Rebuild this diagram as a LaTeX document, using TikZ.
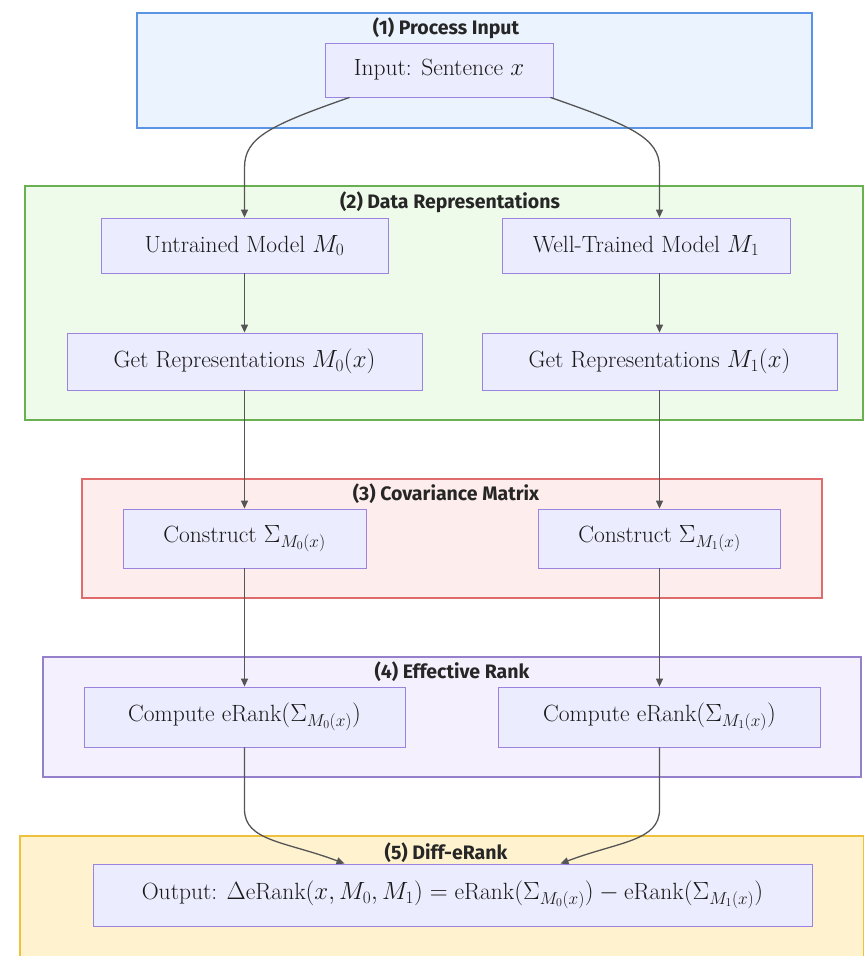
\documentclass[tikz,border=0pt]{standalone}
\usepackage{fontspec}
\usetikzlibrary{arrows.meta}
\newfontfamily\ttlfont{Fira Sans}
\definecolor{cLine}{HTML}{555555}
\definecolor{cNode}{HTML}{ECECFF}
\definecolor{cNodeDraw}{HTML}{9C83DD}
\definecolor{cInBg}{HTML}{EAF3FE}
\definecolor{cInDraw}{HTML}{5B93E6}
\definecolor{cRepBg}{HTML}{EFFBEA}
\definecolor{cRepDraw}{HTML}{6AAF50}
\definecolor{cCovBg}{HTML}{FDEDEC}
\definecolor{cCovDraw}{HTML}{DF6B6B}
\definecolor{cRankBg}{HTML}{F5F0FD}
\definecolor{cRankDraw}{HTML}{9580CC}
\definecolor{cDiffBg}{HTML}{FEF2CF}
\definecolor{cDiffDraw}{HTML}{EEC13A}
\newcommand{\eRank}{\mathrm{eRank}}

\begin{document}
\begin{tikzpicture}[x=1pt,y=-1pt,
  grp/.style={line width=1.6pt},
  ttl/.style={font=\ttlfont\bfseries\fontsize{19.5}{23}\selectfont,text=black!85},
  proc/.style={draw=cNodeDraw,fill=cNode,line width=0.8pt,inner sep=0pt,
               minimum height=56pt,text=black!90,font=\fontsize{23.5}{28}\selectfont},
  flow/.style={-{Triangle[length=8pt,width=7pt]},line width=1.3pt,cLine}
]
\useasboundingbox[fill=white] (0,0) rectangle (864,956);

% groups
\draw[grp,draw=cInDraw,fill=cInBg] (137,13) rectangle (812,128);
\draw[grp,draw=cRepDraw,fill=cRepBg] (25,186) rectangle (863,420);
\draw[grp,draw=cCovDraw,fill=cCovBg] (82,479) rectangle (822,598);
\draw[grp,draw=cRankDraw,fill=cRankBg] (43,657) rectangle (861,777);
\draw[grp,draw=cDiffDraw,fill=cDiffBg] (20,836) rectangle (864,957);

\node[ttl] (t1) at (446,28) {(1) Process Input};
\node[ttl] (t2) at (450,202) {(2) Data Representations};
\node[ttl] (t3) at (446,494) {(3) Covariance Matrix};
\node[ttl] (t4) at (452,672) {(4) Effective Rank};
\node[ttl] (t5) at (446,853) {(5) Diff-eRank};

% steps
\node[proc,minimum width=228pt,minimum height=54pt] (in) at (439,70) {Input: Sentence $x$};
\node[proc,minimum width=287pt,minimum height=55pt] (um) at (244.5,245.5) {Untrained Model $M_0$};
\node[proc,minimum width=288pt,minimum height=55pt] (wm) at (646,245.5) {Well-Trained Model $M_1$};
\node[proc,minimum width=355pt,minimum height=57pt] (gr0) at (244.5,361.5) {Get Representations $M_0(x)$};
\node[proc,minimum width=355pt,minimum height=57pt] (gr1) at (659.5,361.5) {Get Representations $M_1(x)$};
\node[proc,minimum width=243pt,minimum height=59pt] (cs0) at (244.5,538.5) {Construct $\Sigma_{M_0(x)}$};
\node[proc,minimum width=242pt,minimum height=59pt] (cs1) at (659.5,538.5) {Construct $\Sigma_{M_1(x)}$};
\node[proc,minimum width=321pt,minimum height=60pt] (ce0) at (244.5,717) {Compute $\eRank(\Sigma_{M_0(x)})$};
\node[proc,minimum width=322pt,minimum height=60pt] (ce1) at (659.5,717) {Compute $\eRank(\Sigma_{M_1(x)})$};
\node[proc,minimum width=719pt,minimum height=62pt] (out) at (452.5,895)
     {Output: $\Delta\eRank(x,M_0,M_1)=\eRank(\Sigma_{M_0(x)})-\eRank(\Sigma_{M_1(x)})$};

% connectors
\draw[flow] ([xshift=25pt]in.south west) .. controls +(-80,28) and +(0,-30) ..
     ([yshift=50pt]um.north) -- (um.north);
\draw[flow] ([xshift=-3pt]in.south east) .. controls +(80,28) and +(0,-30) ..
     ([yshift=50pt]wm.north -| gr1.north) -- (wm.north -| gr1.north);
\draw[flow] (um) -- (gr0);
\draw[flow] (wm.south -| gr1.north) -- (gr1);
\draw[flow] (gr0) -- (cs0);
\draw[flow] (gr1) -- (cs1);
\draw[flow] (cs0) -- (ce0);
\draw[flow] (cs1) -- (ce1);
\draw[flow] (ce0.south) -- ([yshift=-62pt]ce0.south) .. controls +(0,32) and +(-58,-22) ..
     ([xshift=-108pt]out.north);
\draw[flow] (ce1.south) -- ([yshift=-62pt]ce1.south) .. controls +(0,32) and +(58,-22) ..
     ([xshift=108pt]out.north);
\end{tikzpicture}
\end{document}
